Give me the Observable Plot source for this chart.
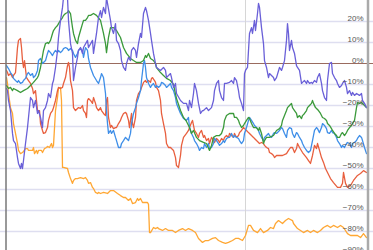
<!DOCTYPE html>
<html>
<head>
<meta charset="utf-8">
<script src="https://cdn.jsdelivr.net/npm/d3@7"></script>
<script src="https://cdn.jsdelivr.net/npm/@observablehq/plot@0.6"></script>
<style>
  html, body { margin: 0; padding: 0; background: #fff; }
  #chart { width: 373px; height: 250px; overflow: hidden; }
</style>
</head>
<body>
<div id="chart"></div>
<script>
// Percentage change over time (day index 0..360)
const purple = [[0,-11.9],[1,-12.9],[2,-17.6],[4,-22.4],[6,-33.3],[7,-36.7],[9,-38.1],[11,-44.8],[12,-47.6],[14,-50],[15,-47.6],[16,-50],[17,-46.2],[19,-38.1],[21,-30.5],[22,-25.7],[24,-16.2],[26,-17.6],[27,-21],[29,-17.6],[31,-23.8],[32,-22.4],[34,-25.7],[36,-30.5],[37,-22.4],[39,-21],[41,-17.6],[42,-14.3],[44,-16.2],[46,-9.5],[47,-8.1],[49,-1.9],[51,6.2],[52,12.4],[54,20.5],[56,26.7],[57,31.4],[61,31.4],[62,20.5],[64,9.5],[66,4.8],[67,-8.1],[69,-1.9],[71,2.9],[72,6.2],[74,7.6],[76,4.8],[77,7.6],[81,11],[82,7.6],[86,11],[87,4.8],[90,14.3],[92,21.9],[94,25.2],[95,21.9],[97,26.7],[99,23.8],[100,31.4],[104,20.5],[105,17.1],[107,14.3],[109,19],[110,11],[112,9.5],[114,6.2],[115,1.4],[117,-1.9],[119,-3.3],[120,0],[122,2.9],[124,1.4],[125,6.2],[127,7.6],[129,6.2],[130,2.9],[132,9.5],[134,14.3],[135,12.4],[137,23.8],[139,26.7],[140,25.2],[142,20.5],[144,14.3],[145,11],[147,4.8],[149,0],[150,-1.9],[154,-3.3],[157,-1.9],[159,-3.3],[160,-6.7],[164,-4.8],[165,-6.7],[167,-11.4],[169,-9.5],[170,-14.3],[174,-17.6],[177,-19],[180,-19],[182,-22.4],[183,-17.6],[185,-21],[187,-14.3],[188,-9.5],[190,-12.9],[192,-19],[194,-23.8],[196,-22.4],[197,-22.4],[200,-21],[202,-22.4],[205,-21],[207,-17.6],[208,-12.9],[210,-9.5],[212,-8.1],[213,-12.9],[215,-16.2],[217,-17.6],[218,-9.5],[220,-9.5],[223,-9],[225,-8.1],[227,-9.5],[228,-6.7],[230,-8.1],[232,-12.9],[233,-16.2],[235,-19],[237,-22.4],[238,-4.8],[239,-3.3],[241,-1.9],[242,6.2],[243,14.3],[245,17.1],[246,14.3],[248,20.5],[249,15.7],[251,23.8],[252,28.6],[253,26.7],[255,17.1],[257,9.5],[258,1.4],[260,-1.9],[262,-6.7],[263,-4.8],[267,-6.7],[268,-8.1],[270,-6.7],[273,-1.9],[275,-3.3],[276,-1.9],[278,1.4],[280,11],[281,19],[282,14.3],[283,6.2],[285,11],[286,7.6],[288,4.8],[290,-1],[291,-1.9],[293,-3.3],[295,-9.5],[296,-9],[298,-8.1],[300,-9.5],[301,-8.1],[303,-9.5],[305,-9],[306,-9.5],[308,-8.1],[310,-9],[311,-6.7],[313,-4.8],[315,-9.5],[316,-12.9],[318,-16.2],[320,-17.6],[321,-8.1],[323,0],[325,0.5],[326,-4.8],[328,-6.7],[330,-8.1],[331,-9.5],[333,-11.4],[335,-10.5],[336,-9.5],[338,-8.1],[340,-11.4],[341,-14.3],[343,-12.9],[345,-15.2],[346,-13.8],[348,-15.2],[350,-14.3],[353,-15.2],[355,-14.3],[356,-17.6],[358,-19],[360,-21]];

const green = [[0,-10.5],[2,-11.9],[4,-11.4],[6,-12.9],[7,-11.9],[11,-12.9],[14,-13.8],[17,-12.9],[21,-11.9],[24,-10.5],[27,-9],[31,-6.7],[32,-5.7],[34,-1.9],[37,6.2],[39,9.5],[41,10],[42,9.5],[44,11],[46,14.3],[47,15.7],[49,17.1],[51,18.1],[52,19],[54,20.5],[56,21.9],[57,22.9],[59,23.8],[61,24.3],[62,25.2],[64,23.8],[66,17.1],[67,14.3],[69,11],[71,9.5],[72,12.4],[74,15.7],[76,19],[77,20.5],[79,20.5],[81,21.9],[82,22.9],[84,22.9],[87,23.8],[90,22.9],[94,20.5],[97,14.3],[99,9.5],[100,5.2],[102,12.4],[104,17.1],[107,17.1],[110,15.7],[114,12.4],[117,7.6],[120,4.8],[124,2.4],[127,1.4],[130,0.5],[134,0.5],[137,1.4],[139,3.8],[140,2.9],[142,4.8],[144,2.4],[147,1.4],[149,0],[150,-1.9],[154,-4.3],[157,-5.7],[160,-7.1],[164,-8.1],[167,-10],[170,-16.7],[174,-22.4],[177,-25.7],[180,-27.6],[183,-30.5],[185,-33.3],[187,-31.9],[190,-35.2],[193,-36.7],[197,-37.6],[200,-38.1],[203,-41.4],[205,-39],[207,-35.2],[210,-34.3],[213,-34.3],[215,-33.3],[217,-30.5],[218,-27.1],[220,-24.8],[223,-23.8],[227,-23.8],[228,-25.7],[230,-25.7],[232,-27.1],[233,-28.6],[235,-30.5],[237,-29.5],[238,-28.6],[240,-27.1],[242,-25.7],[243,-26.2],[245,-28.6],[247,-30.5],[250,-30.5],[252,-31.9],[253,-30.5],[255,-33.3],[257,-38.1],[258,-36.7],[260,-35.2],[263,-35.2],[267,-34.3],[270,-31.9],[273,-31],[275,-29.5],[276,-27.1],[278,-24.8],[280,-22.4],[281,-21],[283,-20],[285,-19],[286,-21],[288,-22.4],[290,-23.8],[291,-25.7],[293,-24.8],[295,-26.2],[296,-24.8],[298,-23.8],[300,-22.4],[301,-21],[303,-20],[305,-19],[306,-17.6],[307,-19],[309,-21],[310,-21.4],[312,-22.4],[314,-23.8],[316,-25.7],[318,-26.2],[320,-27.1],[321,-28.6],[323,-29.5],[325,-31],[326,-31.9],[328,-33.3],[330,-34.3],[331,-35.2],[333,-35.2],[335,-33.3],[336,-32.9],[338,-34.3],[340,-32.9],[341,-31.9],[343,-30.5],[345,-29.5],[346,-28.6],[348,-27.1],[350,-21],[351,-18.6],[353,-19],[355,-18.6],[356,-19],[358,-20],[360,-21]];

const blue = [[0,-1],[2,-2.4],[4,-4.3],[6,-5.7],[7,-7.1],[9,-8.1],[11,-9],[12,-8.1],[14,-9.5],[16,-9],[17,-8.1],[19,-7.1],[21,-4.8],[22,-4.3],[24,-5.7],[26,-4.8],[27,-6.7],[29,-5.7],[31,-3.3],[32,1.4],[34,2.4],[36,0],[37,0.5],[39,1.4],[41,4.8],[42,6.2],[44,5.2],[46,3.8],[47,4.8],[49,6.2],[51,5.2],[52,6.2],[54,5.2],[56,6.2],[57,7.1],[59,7.6],[61,7.1],[62,6.2],[64,7.1],[66,6.2],[67,4.8],[69,2.9],[71,4.8],[72,6.2],[74,7.1],[76,6.2],[77,2.9],[79,7.6],[81,6.2],[82,2.4],[84,-1.9],[87,-5.7],[90,-8.1],[92,-9.5],[94,-6.7],[95,-4.8],[97,-6.7],[99,-14.3],[100,-22.4],[101,-28.6],[102,-33.3],[104,-31.9],[105,-33.3],[107,-31.9],[109,-35.2],[110,-36.7],[112,-40],[114,-40],[115,-38.1],[117,-36.7],[119,-35.2],[120,-35.7],[122,-36.7],[124,-33.3],[125,-28.6],[127,-23.8],[129,-21],[130,-19],[132,-16.2],[134,-12.9],[135,-8.1],[137,0],[138,1.4],[139,-1.9],[140,-6.7],[142,-9.5],[144,-11.4],[145,-10.5],[147,-9.5],[149,-11.4],[150,-10.5],[152,-11.4],[154,-10.5],[155,-9],[157,-9.5],[159,-10.5],[160,-11.4],[162,-10.5],[164,-9.5],[165,-11.4],[167,-12.9],[169,-16.2],[170,-19],[174,-23.8],[177,-26.2],[180,-27.1],[182,-25.7],[183,-30.5],[185,-33.3],[187,-35.2],[188,-36.7],[190,-38.1],[192,-40],[193,-41.4],[195,-40],[197,-40.5],[198,-38.1],[200,-40],[202,-38.1],[203,-40.5],[205,-40],[207,-38.1],[208,-35.7],[210,-36.7],[212,-38.1],[213,-39],[215,-38.1],[217,-36.7],[218,-37.6],[220,-35.7],[222,-35.2],[223,-35.2],[225,-33.3],[227,-35.2],[228,-34.3],[230,-35.2],[232,-35.7],[233,-36.7],[235,-38.1],[237,-36.7],[238,-33.3],[240,-30.5],[242,-27.1],[243,-25.7],[245,-27.1],[247,-28.6],[248,-29.5],[250,-30.5],[252,-31.9],[253,-33.3],[255,-35.2],[257,-36.7],[258,-35.2],[260,-34.3],[262,-33.3],[263,-34.3],[265,-35.2],[267,-33.3],[268,-32.9],[270,-33.3],[273,-31.9],[275,-30.5],[276,-31],[278,-33.3],[280,-35.2],[281,-31.9],[283,-30.5],[285,-31],[286,-33.3],[288,-35.2],[290,-32.9],[291,-33.3],[293,-35.2],[295,-36.7],[296,-38.1],[298,-40],[300,-41.4],[302,-42.4],[304,-41.4],[306,-36.7],[308,-31.9],[310,-30.5],[311,-31],[313,-32.9],[315,-30.5],[316,-28.6],[318,-29.5],[320,-31],[321,-32.9],[323,-33.3],[325,-31.9],[326,-32.9],[328,-33.3],[330,-35.2],[331,-36.7],[333,-38.1],[335,-40],[336,-39],[338,-40],[340,-38.1],[341,-37.6],[343,-38.1],[345,-40],[346,-38.1],[348,-37.6],[350,-36.7],[351,-35.7],[353,-34.3],[355,-35.2],[356,-36.7],[358,-40],[360,-42.9]];

const red = [[0,-3.3],[1,-4.3],[2,-5.7],[4,-4.8],[6,-6.7],[7,-5.7],[9,-4.3],[10,1.4],[11,7.6],[12,11],[14,11.9],[15,7.6],[16,1.4],[17,-1.9],[18,1.4],[20,-6.7],[22,-8.1],[24,-9.5],[26,-11.9],[27,-14.3],[29,-12.9],[30,-17.6],[31,-22.4],[33,-22.4],[34,-28.6],[36,-31.9],[37,-33.3],[39,-32.9],[41,-30.5],[42,-27.1],[44,-23.8],[46,-22.4],[47,-21],[49,-17.6],[51,-12.9],[52,-11.4],[54,-11.9],[56,-11.4],[57,-9.5],[59,-6.7],[61,-1],[62,0.5],[63,-1.9],[64,-8.1],[66,-12.9],[67,-21],[69,-22.4],[71,-21.4],[72,-21],[74,-21.4],[76,-20],[77,-22.4],[79,-23.8],[80,-25.7],[81,-17.6],[82,-16.7],[84,-17.6],[86,-19],[87,-16.2],[89,-19],[90,-21],[92,-22.4],[94,-21],[95,-22.4],[97,-23.8],[99,-24.8],[100,-17.6],[101,-16.2],[102,-25.7],[104,-30.5],[105,-29.5],[107,-31],[109,-30.5],[110,-30.5],[112,-28.6],[114,-27.1],[115,-25.7],[117,-23.8],[119,-23.3],[120,-23.8],[122,-27.1],[123,-30.5],[124,-27.1],[125,-23.8],[126,-28.6],[127,-30.5],[129,-25.7],[130,-17.6],[132,-14.3],[134,-12.9],[135,-11.4],[137,-9],[139,-8.1],[140,-9],[142,-8.1],[144,-9],[145,-7.1],[146,-6.7],[148,-8.1],[149,-9],[150,-11.4],[152,-12.9],[154,-17.6],[155,-23.8],[157,-28.6],[159,-33.3],[160,-38.1],[162,-40],[164,-40],[165,-40.5],[167,-41.4],[169,-44.8],[170,-48.6],[172,-49.5],[174,-43.8],[175,-39],[177,-35.2],[180,-33.3],[182,-31.9],[183,-30.5],[185,-28.1],[186,-27.1],[187,-29.5],[188,-31.9],[190,-33.3],[192,-35.2],[193,-33.3],[195,-31.9],[197,-35.2],[198,-34.3],[200,-36.7],[202,-35.7],[203,-38.1],[205,-35.2],[207,-36.7],[208,-37.6],[210,-35.7],[212,-36.7],[213,-37.6],[215,-35.7],[217,-36.7],[218,-35.2],[220,-34.3],[222,-35.2],[223,-33.3],[225,-34.3],[227,-35.2],[228,-33.3],[230,-35.2],[232,-34.3],[233,-32.9],[235,-31.9],[237,-30.5],[238,-31],[240,-31.9],[242,-32.9],[243,-33.3],[245,-34.3],[247,-35.2],[248,-35.7],[250,-36.7],[252,-37.6],[253,-38.1],[255,-37.6],[257,-38.1],[258,-39],[260,-40],[262,-40.5],[263,-42.4],[265,-42.9],[267,-43.8],[268,-44.8],[270,-43.8],[273,-43.8],[276,-43.8],[280,-42.9],[282,-41.4],[284,-40],[286,-40],[288,-42.4],[290,-40.5],[291,-38.1],[293,-40],[296,-42.4],[300,-44.8],[302,-46.2],[304,-47.6],[306,-43.8],[308,-39],[310,-40.5],[311,-38.1],[313,-41.4],[315,-44.8],[317,-47.1],[319,-50],[321,-51.9],[324,-54.8],[327,-56.7],[331,-59],[334,-59],[336,-57.1],[337,-51.9],[339,-57.1],[341,-59],[344,-58.1],[347,-55.7],[351,-53.3],[354,-52.4],[357,-51],[360,-51.9]];

const orange = [[0,-6.7],[1,-9.5],[2,-14.3],[4,-21],[6,-23.8],[7,-28.6],[9,-33.3],[11,-38.1],[12,-41.4],[14,-42.9],[16,-42.4],[17,-41.9],[19,-40.5],[21,-40.5],[22,-41.4],[24,-41.4],[26,-41.4],[27,-40],[28,-42.9],[30,-41.4],[31,-42.9],[32,-41.4],[35,-41.4],[36,-42.4],[38,-40.5],[40,-40],[41,-39.5],[43,-40],[44,-39],[45,-38.1],[46,-40],[47,-39],[49,-22.4],[51,-16.2],[52,-11.9],[54,-11.4],[55,-17.6],[56,-49.5],[57,-49.5],[61,-50],[62,-51.9],[64,-54.8],[66,-57.1],[67,-55.7],[69,-54.8],[71,-54.8],[74,-54.3],[77,-54.8],[79,-54.3],[81,-55.7],[82,-57.1],[84,-56.7],[86,-59],[87,-59.5],[89,-61.4],[91,-61.9],[92,-61.4],[94,-61.9],[97,-61.4],[101,-61.9],[104,-60.5],[107,-60.5],[111,-61.9],[114,-62.9],[117,-63.8],[119,-63.8],[122,-65.2],[124,-64.3],[126,-66.7],[129,-66.2],[131,-64.3],[132,-65.2],[134,-64.3],[136,-66.2],[137,-66.2],[141,-66.2],[142,-67.1],[143,-80.5],[144,-80.5],[147,-78.1],[149,-78.6],[151,-78.1],[152,-78.6],[156,-79.5],[159,-78.6],[162,-79.5],[166,-79.5],[169,-80.5],[172,-79.5],[176,-78.6],[179,-79.5],[182,-78.6],[186,-79.5],[189,-80.5],[192,-83.3],[196,-85.2],[199,-84.3],[202,-84.3],[206,-83.3],[209,-82.9],[212,-84.3],[216,-85.2],[219,-85.7],[222,-85.2],[226,-84.3],[229,-83.3],[232,-83.3],[236,-84.3],[239,-81.9],[242,-77.1],[244,-77.1],[247,-79.5],[251,-80.5],[254,-78.6],[257,-80.5],[261,-79.5],[264,-78.1],[267,-78.6],[269,-76.2],[272,-74.8],[276,-76.2],[279,-74.8],[282,-73.8],[286,-74.8],[287,-76.2],[291,-78.6],[294,-79.5],[297,-80.5],[301,-79.5],[304,-80.5],[307,-79.5],[311,-80.5],[314,-79.5],[317,-78.1],[321,-77.1],[324,-78.1],[327,-77.1],[331,-78.1],[334,-77.1],[337,-78.1],[341,-81],[344,-81.9],[347,-81.9],[351,-81.9],[354,-82.9],[357,-81],[360,-82.9]];

const yTicks = [20, 10, 0, -10, -20, -30, -40, -50, -60, -70, -80, -90];
const yearMarks = [239];
const xDomain = [0, 360];
const yDomain = [-90, 30];

const seriesList = [
  {name: "orange", data: orange, color: "#ffa733"},
  {name: "red", data: red, color: "#e85f3e"},
  {name: "blue", data: blue, color: "#3e8ee8"},
  {name: "green", data: green, color: "#3b9a3b"},
  {name: "purple", data: purple, color: "#6a60d8"}
];

const fmt = d => (d < 0 ? "\u2212" : "") + Math.abs(d) + "%";

const lineMarks = seriesList.map(s =>
  Plot.line(s.data, {x: d => d[0], y: d => d[1], stroke: s.color, strokeWidth: 1.3, clip: true})
);

const chart = Plot.plot({
  width: 373,
  height: 250,
  marginTop: 0, marginRight: 0, marginBottom: 0, marginLeft: 0,
  style: {fontFamily: "'Liberation Sans', Arial, sans-serif", background: "#fff"},
  x: {domain: xDomain, range: [6, 366], axis: null},
  y: {domain: yDomain, range: [252, 0], axis: null},
  marks: [
    Plot.ruleY(yTicks.filter(d => d !== 0), {stroke: "#dedef0", strokeWidth: 1.5}),
    Plot.ruleX(yearMarks, {stroke: "#d6d6d6", strokeWidth: 1}),
    Plot.ruleY([0], {stroke: "#9a6b5e", strokeWidth: 1}),
    ...lineMarks,
    Plot.ruleX([xDomain[0]], {dx: -0.5, stroke: "#777", strokeWidth: 1.5}),
    Plot.ruleX([xDomain[1]], {dx: 1.5, stroke: "#aaa", strokeWidth: 2.5}),
    Plot.text(yTicks, {x: xDomain[1], y: d => d, text: fmt, textAnchor: "end", lineAnchor: "bottom", dx: -3, dy: -1, fontSize: 8, fill: "#555"})
  ]
});
document.getElementById("chart").appendChild(chart);
</script>
</body>
</html>
